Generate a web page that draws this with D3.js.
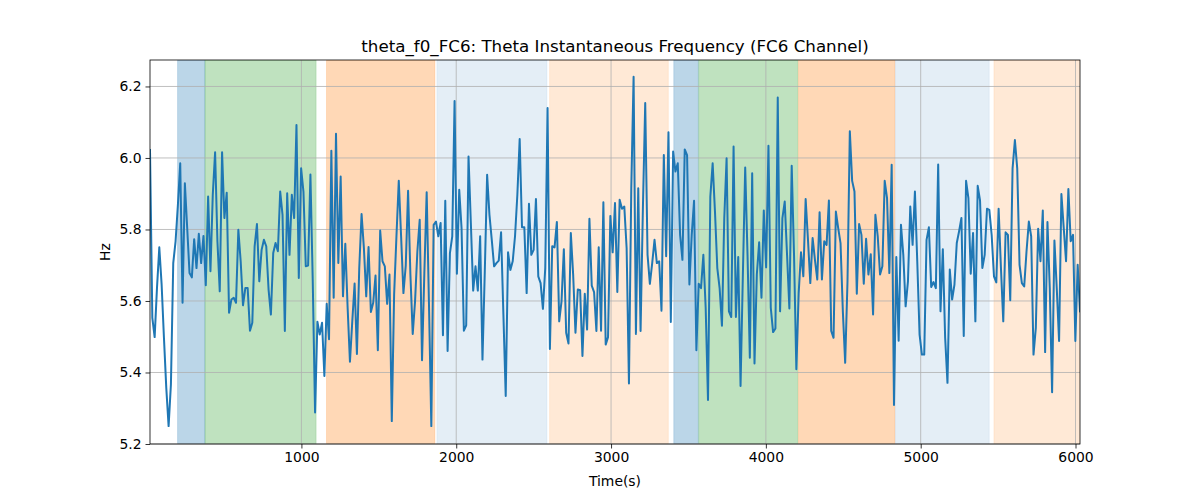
<!DOCTYPE html>
<html>
<head>
<meta charset="utf-8">
<script src="https://cdn.jsdelivr.net/npm/d3@7"></script>
<style>
  html, body { margin: 0; padding: 0; background: #fff; }
  svg { display: block; font-family: "DejaVu Sans", sans-serif; }
</style>
</head>
<body>
<svg id="chart" width="1200" height="500"></svg>
<script>
// ---------- data ----------
const title = "theta_f0_FC6: Theta Instantaneous Frequency (FC6 Channel)";
const xLabel = "Time(s)";
const yLabel = "Hz";
const xTicks = [1000, 2000, 3000, 4000, 5000, 6000];
const yTicks = [5.2, 5.4, 5.6, 5.8, 6.0, 6.2];
const timeStart = 22;
const timeEnd = 6029;

const hzValues = [
  6.022,5.553,5.499,5.636,5.750,5.646,5.497,5.357,5.250,5.367,5.706,5.767,5.869,5.985,5.595,5.929,5.804,5.678,5.666,5.773,
  5.692,5.788,5.706,5.782,5.644,5.892,5.683,5.897,6.016,5.767,5.627,6.016,5.832,5.903,5.567,5.604,5.609,5.595,5.799,5.711,
  5.588,5.636,5.636,5.517,5.539,5.753,5.815,5.655,5.743,5.771,5.753,5.632,5.562,5.734,5.762,5.739,5.906,5.841,5.516,5.901,
  5.729,5.897,5.832,6.092,5.664,5.971,5.906,5.697,5.699,5.954,5.655,5.288,5.542,5.506,5.539,5.390,5.592,5.493,6.020,
  5.609,6.068,5.706,5.948,5.613,5.760,5.581,5.430,5.543,5.649,5.452,5.692,5.843,5.748,5.613,5.751,5.569,5.595,5.671,5.462,
  5.797,5.711,5.697,5.592,5.674,5.264,5.618,5.781,5.936,5.781,5.622,5.699,5.908,5.674,5.508,5.599,5.739,5.827,5.434,5.678,
  5.904,5.588,5.250,5.813,5.822,5.781,5.818,5.504,5.880,5.460,5.734,5.781,6.159,5.676,5.911,5.804,5.517,5.532,6.004,5.818,
  5.629,5.697,5.629,5.781,5.436,5.683,5.953,5.841,5.771,5.697,5.706,5.713,5.792,5.562,5.334,5.736,5.687,5.711,5.781,5.897,6.053,
  5.806,5.806,5.622,5.872,5.729,5.743,5.885,5.669,5.650,5.578,5.692,6.140,5.466,5.753,5.750,5.821,5.543,5.599,5.745,5.511,
  5.481,5.790,5.674,5.511,5.632,5.630,5.446,5.620,5.520,5.830,5.643,5.625,5.516,5.750,5.517,5.876,5.478,5.499,5.838,5.736,
  5.874,5.625,5.883,5.858,5.864,5.748,5.369,5.915,6.227,5.508,5.915,5.516,5.860,6.154,5.729,5.648,5.706,5.771,5.706,5.711,
  5.573,6.008,5.725,6.072,5.541,6.018,5.962,5.985,5.785,5.715,6.024,6.008,5.646,5.785,5.880,5.462,5.648,5.636,5.729,5.581,
  5.323,5.892,5.985,
  5.850,5.692,5.636,5.531,5.832,5.999,5.571,5.555,6.032,5.555,5.723,5.362,5.674,5.973,5.729,5.441,5.957,5.425,5.674,5.764,
  5.609,5.853,5.694,6.034,5.581,5.513,5.523,6.169,5.571,5.832,5.878,5.729,5.579,5.978,5.729,5.409,5.622,5.736,5.669,5.885,
  5.771,5.650,5.776,5.715,5.660,5.848,5.660,5.767,5.757,5.881,5.516,5.497,5.850,5.804,5.762,5.571,5.427,5.655,6.075,5.936,
  5.906,5.620,5.815,5.785,5.648,5.774,5.674,5.731,5.562,5.841,5.781,5.674,5.697,5.936,5.888,5.678,5.981,5.309,5.723,5.489,
  5.813,5.729,5.585,5.655,5.864,5.757,5.906,5.711,5.506,5.450,5.450,5.771,5.806,5.639,5.653,5.636,5.982,5.571,5.745,5.497,
  5.371,5.688,5.604,5.646,5.762,5.795,5.832,5.502,5.936,5.888,5.676,5.790,5.543,5.922,5.881,5.692,5.729,5.858,5.855,5.785,
  5.669,5.652,5.858,5.692,5.543,5.792,5.785,5.602,5.971,6.050,5.971,5.701,5.650,5.641,5.739,5.822,5.781,5.450,5.525,5.802,
  5.711,5.853,5.457,5.821,5.636,5.345,5.769,5.636,5.488,5.899,5.804,5.711,5.913,5.767,5.785,5.488,5.701,5.571
];

// shaded segments: [start, end, colour, opacity]
const spanStarts = [200, 377, 1162, 1875, 2603, 3405, 3566, 4210, 4836, 5473];
const spanEnds   = [377, 1095, 1862, 2586, 3370, 3564, 4206, 4833, 5443, 6040];
const spanColors = ["#1f77b4","#2ca02c","#ff7f0e","#1f77b4","#ff7f0e","#1f77b4","#2ca02c","#ff7f0e","#1f77b4","#ff7f0e"];
const spanAlphas = [0.3, 0.3, 0.3, 0.12, 0.17, 0.3, 0.3, 0.3, 0.12, 0.17];

// ---------- chart ----------
const svg = d3.select("#chart");
const W = 1200, H = 500;
const m = { left: 150, right: 1080, top: 60, bottom: 444 };

const n = hzValues.length;
const step = (timeEnd - timeStart) / (n - 1);
const data = hzValues.map((v, i) => ({ t: timeStart + i * step, v }));

const x = d3.scaleLinear().domain([timeStart, timeEnd]).range([m.left, m.right]);
const y = d3.scaleLinear().domain([5.2, 6.274]).range([m.bottom, m.top]);

svg.append("rect").attr("width", W).attr("height", H).attr("fill", "#fff");

svg.append("defs").append("clipPath").attr("id", "clip")
  .append("rect").attr("x", m.left).attr("y", m.top)
  .attr("width", m.right - m.left).attr("height", m.bottom - m.top);

const spans = spanStarts.map((s, i) => ({ s, e: spanEnds[i], c: spanColors[i], a: spanAlphas[i] }));
svg.append("g").attr("clip-path", "url(#clip)")
  .selectAll("rect").data(spans).join("rect")
  .attr("x", d => x(d.s)).attr("width", d => x(d.e) - x(d.s))
  .attr("y", m.top).attr("height", m.bottom - m.top)
  .attr("fill", d => d.c).attr("fill-opacity", d => d.a)
  .attr("stroke", d => d.c).attr("stroke-opacity", d => d.a * 0.6).attr("stroke-width", 1);

// grid
const grid = svg.append("g");
grid.selectAll("line.gx").data(xTicks).join("line")
  .attr("x1", d => x(d)).attr("x2", d => x(d))
  .attr("y1", m.top).attr("y2", m.bottom)
  .attr("stroke", "#b0b0b0").attr("stroke-width", 0.8);
grid.selectAll("line.gy").data(yTicks).join("line")
  .attr("y1", d => y(d)).attr("y2", d => y(d))
  .attr("x1", m.left).attr("x2", m.right)
  .attr("stroke", "#b0b0b0").attr("stroke-width", 0.8);

// line
const line = d3.line().x(d => x(d.t)).y(d => y(d.v));
svg.append("path").datum(data)
  .attr("clip-path", "url(#clip)")
  .attr("d", line).attr("fill", "none")
  .attr("stroke", "#1f77b4").attr("stroke-width", 2)
  .attr("stroke-linejoin", "round").attr("stroke-linecap", "square");

// axes
const xAxis = d3.axisBottom(x).tickValues(xTicks).tickSize(4.5).tickPadding(4).tickFormat(d3.format("d"));
const yAxis = d3.axisLeft(y).tickValues(yTicks).tickSize(4.5).tickPadding(4).tickFormat(d3.format(".1f"));

const gx = svg.append("g").attr("transform", `translate(0,${m.bottom})`).call(xAxis);
const gy = svg.append("g").attr("transform", `translate(${m.left},0)`).call(yAxis);
[gx, gy].forEach(g => {
  g.select(".domain").remove();
  g.selectAll(".tick line").attr("stroke", "#000").attr("stroke-width", 0.8);
  g.selectAll(".tick text").attr("fill", "#000").style("font-size", "13.9px").style("font-family", "DejaVu Sans, sans-serif");
});

// spines
svg.append("rect").attr("x", m.left).attr("y", m.top)
  .attr("width", m.right - m.left).attr("height", m.bottom - m.top)
  .attr("fill", "none").attr("stroke", "#000").attr("stroke-width", 0.8);

// labels
svg.append("text").attr("x", (m.left + m.right) / 2).attr("y", 52)
  .attr("text-anchor", "middle").style("font-size", "16.7px").attr("fill", "#000").text(title);
svg.append("text").attr("x", (m.left + m.right) / 2).attr("y", 486)
  .attr("text-anchor", "middle").style("font-size", "13.9px").attr("fill", "#000").text(xLabel);
svg.append("text").attr("transform", `translate(110,${(m.top + m.bottom) / 2}) rotate(-90)`)
  .attr("text-anchor", "middle").style("font-size", "13.9px").attr("fill", "#000").text(yLabel);
</script>
</body>
</html>
